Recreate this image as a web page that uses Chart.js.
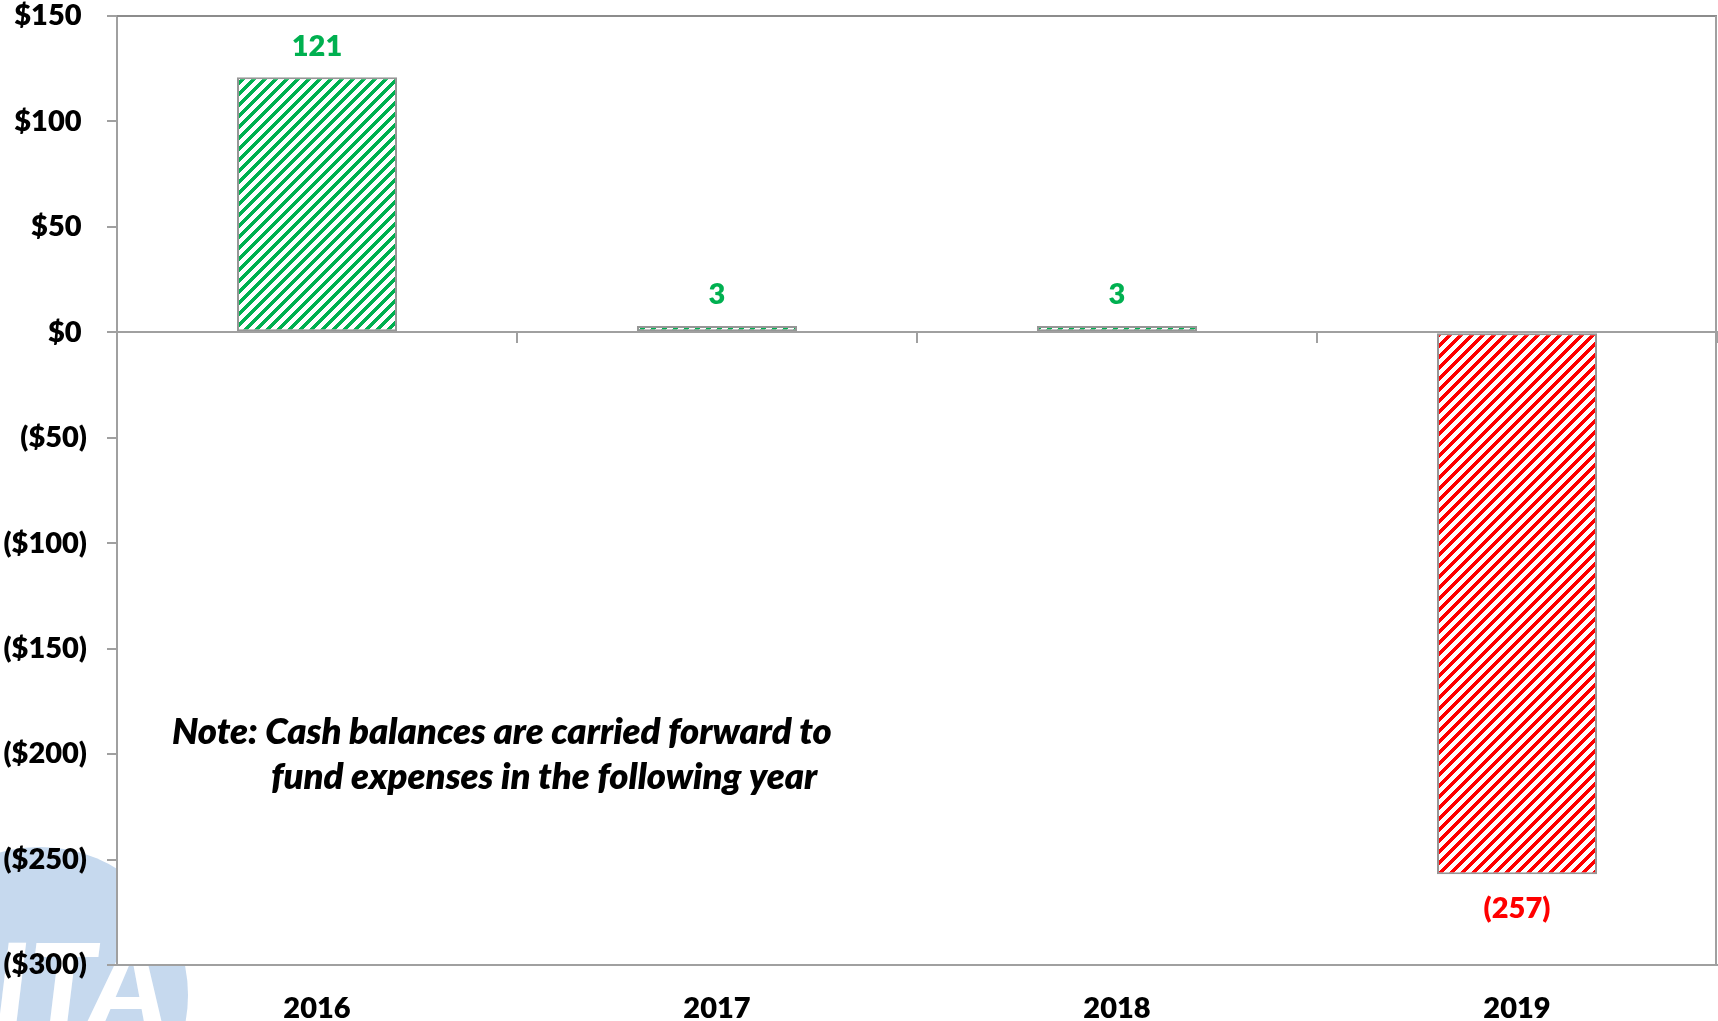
<!DOCTYPE html>
<html><head><meta charset="utf-8">
<script src="https://cdn.jsdelivr.net/npm/chart.js@4.4.1/dist/chart.umd.min.js"></script>
<style>html,body{margin:0;padding:0;background:#fff;overflow:hidden}#wrap{position:relative;width:1718px;height:1021px}</style>
</head><body><div id="wrap"><canvas id="c" width="1718" height="1021"></canvas></div>
<script>
// ---- data ----
const categories = ['2016', '2017', '2018', '2019'];
const cashBalance = [121, 3, 3, -257];
const valueLabels = ['121', '3', '3', '(257)'];
const yTickValues = [150, 100, 50, 0, -50, -100, -150, -200, -250, -300];
const noteLines = ['Note: Cash balances are carried forward to', 'fund expenses in the following year'];

// ---- styles ----
const GREEN = '#00B050', RED = '#FF0000', AXIS = '#A0A0A0';
const canvas = document.getElementById('c');
const ctx = canvas.getContext('2d');

function hatch(color, period, thick) {
  const c = document.createElement('canvas');
  c.width = period; c.height = period;
  const g = c.getContext('2d');
  g.fillStyle = '#fff'; g.fillRect(0, 0, period, period);
  g.fillStyle = color;
  for (let y = 0; y < period; y++) for (let x = 0; x < period; x++) {
    if (((x + y) % period) < thick) g.fillRect(x, y, 1, 1);
  }
  return ctx.createPattern(c, 'repeat');
}
const greenHatch = hatch(GREEN, 11, 5);
const redHatch = hatch(RED, 11, 5);

const bgPlugin = {
  id: 'bg',
  beforeDraw(chart) {
    const g = chart.ctx, a = chart.chartArea;
    g.save();
    g.fillStyle = '#fff'; g.fillRect(0, 0, chart.width, chart.height);
    g.beginPath(); g.arc(40, 995, 148, 0, Math.PI * 2);
    g.fillStyle = '#C6D9EE'; g.fill();
    g.clip();
    g.fillStyle = '#ffffff';
    g.font = 'italic 900 120px Lato';
    g.textBaseline = 'alphabetic';
    g.fillText('ITA', -6, 1030);
    g.restore();
    g.save();
    g.fillStyle = '#fff';
    g.fillRect(a.left, a.top, a.right - a.left, a.bottom - a.top);
    g.restore();
  }
};

const framePlugin = {
  id: 'frame',
  afterDraw(chart) {
    const g = chart.ctx, a = chart.chartArea;
    g.save();
    g.strokeStyle = '#8C8C8C'; g.lineWidth = 2;
    g.beginPath(); g.moveTo(a.left, a.top); g.lineTo(a.right, a.top); g.stroke();
    g.strokeStyle = AXIS;
    g.beginPath(); g.moveTo(a.right - 1, a.top); g.lineTo(a.right - 1, a.bottom); g.stroke();
    g.fillStyle = '#000';
    let size = 34;
    g.font = 'italic 800 ' + size + 'px Lato';
    const w = g.measureText(noteLines[0]).width;
    size = size * 660 / w;
    g.font = 'italic 800 ' + size.toFixed(2) + 'px Lato';
    g.textBaseline = 'middle'; g.textAlign = 'left';
    g.fillText(noteLines[0], 172, 732);
    g.fillText(noteLines[1], 271, 777);
    g.restore();
  }
};

const labelPlugin = {
  id: 'vlabels',
  afterDatasetsDraw(chart) {
    const g = chart.ctx;
    const meta = chart.getDatasetMeta(0);
    g.save();
    g.font = '800 29px Lato';
    g.textAlign = 'center'; g.textBaseline = 'middle';
    meta.data.forEach((el, i) => {
      const v = cashBalance[i];
      g.fillStyle = v < 0 ? RED : GREEN;
      const y = v < 0 ? el.y + 34 : el.y - 31;
      g.fillText(valueLabels[i], el.x, y);
    });
    g.restore();
  }
};

const tickFont = { family: 'Lato', weight: '800', size: 29 };

new Chart(ctx, {
  type: 'bar',
  data: {
    labels: categories,
    datasets: [{
      data: cashBalance,
      backgroundColor: cashBalance.map(v => v < 0 ? redHatch : greenHatch),
      borderColor: '#969696',
      borderWidth: 2,
      borderSkipped: false,
      categoryPercentage: 0.4,
      barPercentage: 1.0
    }]
  },
  options: {
    responsive: false,
    animation: false,
    devicePixelRatio: 1,
    layout: { padding: { top: 0, right: 1, left: 0, bottom: 0 } },
    plugins: { legend: { display: false }, tooltip: { enabled: false } },
    scales: {
      x: {
        position: 'bottom',
        offset: true,
        grid: { display: false, drawTicks: false, offset: true },
        border: { display: true, color: AXIS, width: 2 },
        ticks: { font: tickFont, color: '#000', padding: 26, maxRotation: 0 },
        afterFit: s => { s.height = 56; }
      },
      x2: {
        type: 'category',
        position: { y: 0 },
        offset: true,
        grid: { drawOnChartArea: false, drawTicks: true, tickLength: 10, color: AXIS, lineWidth: 2, offset: true },
        border: { display: true, color: AXIS, width: 2 },
        ticks: { display: false }
      },
      y: {
        min: -300, max: 150,
        afterBuildTicks: s => { s.ticks = yTickValues.map(v => ({ value: v })); },
        ticks: {
          font: tickFont, color: '#000', padding: 20,
          callback: v => v < 0 ? '($' + Math.abs(v) + ')' : '$' + v + '\u2009\u200A'
        },
        grid: { drawOnChartArea: false, drawTicks: true, tickLength: 10, color: AXIS, lineWidth: 2 },
        border: { display: true, color: AXIS, width: 2 },
        afterFit: s => { s.width = 117; s.paddingTop = 16; }
      }
    }
  },
  plugins: [bgPlugin, labelPlugin, framePlugin]
});
</script></body></html>
